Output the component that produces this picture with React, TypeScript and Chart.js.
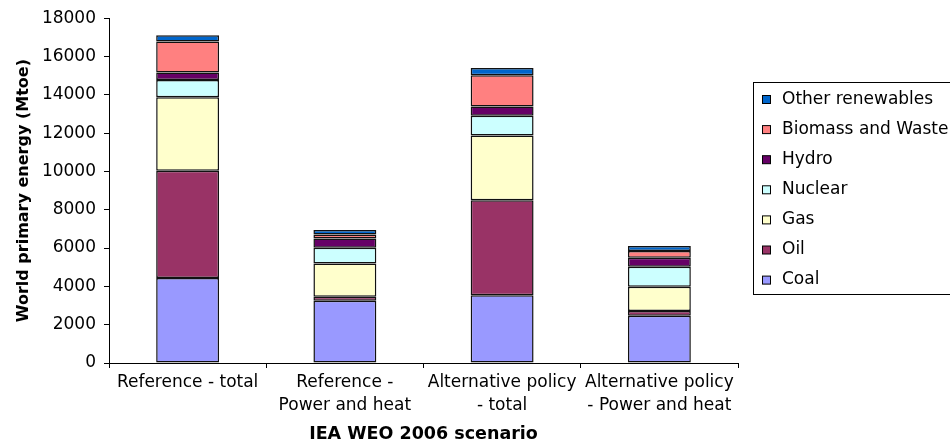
import React, { useEffect, useRef } from "react";
import { Chart, registerables } from "chart.js";

Chart.register(...registerables);

const categories: (string | string[])[] = [
  "Reference - total",
  ["Reference -", "Power and heat"],
  ["Alternative policy", "- total"],
  ["Alternative policy", "- Power and heat"],
];

const coal = [4440, 3250, 3540, 2470];
const oil = [5600, 210, 4960, 240];
const gas = [3830, 1730, 3370, 1265];
const nuclear = [900, 830, 1040, 1050];
const hydro = [400, 480, 480, 470];
const biomass = [1610, 210, 1630, 350];
const otherRenewables = [330, 230, 380, 260];

const yTicks = [0, 2000, 4000, 6000, 8000, 10000, 12000, 14000, 16000, 18000];

const FONT = "'DejaVu Sans', sans-serif";

const legendPlugin = {
  id: "boxLegend",
  afterDraw(chart: any) {
    const ctx = chart.ctx as CanvasRenderingContext2D;
    ctx.save();
    ctx.strokeStyle = "#000";
    ctx.lineWidth = 1;
    ctx.strokeRect(753.5, 82.5, 220, 212);
    const ds = chart.data.datasets.slice().reverse();
    ctx.font = `17px ${FONT}`;
    ctx.textBaseline = "alphabetic";
    ctx.textAlign = "left";
    ds.forEach((d: any, i: number) => {
      const yb = 103.5 + i * 30.1;
      ctx.fillStyle = d.backgroundColor;
      ctx.fillRect(762.5, yb - 8, 8, 8);
      ctx.strokeStyle = "#000";
      ctx.strokeRect(762.5, yb - 8, 8, 8);
      ctx.fillStyle = "#000";
      ctx.fillText(d.label, 782, yb);
    });
    ctx.restore();
  },
};

export default function App() {
  const ref = useRef<HTMLCanvasElement>(null);
  useEffect(() => {
    if (!ref.current) return;
    const mk = (label: string, data: number[], color: string) => ({
      label,
      data,
      backgroundColor: color,
      borderColor: "#111",
      borderWidth: 1.5,
      borderSkipped: false,
      categoryPercentage: 0.8,
      barPercentage: 0.5,
    });
    const chart = new Chart(ref.current, {
      type: "bar",
      data: {
        labels: categories,
        datasets: [
          mk("Coal", coal, "#9999FF"),
          mk("Oil", oil, "#993366"),
          mk("Gas", gas, "#FFFFCC"),
          mk("Nuclear", nuclear, "#CCFFFF"),
          mk("Hydro", hydro, "#660066"),
          mk("Biomass and Waste", biomass, "#FF8080"),
          mk("Other renewables", otherRenewables, "#0066CC"),
        ],
      },
      options: {
        animation: false,
        responsive: true,
        maintainAspectRatio: false,
        devicePixelRatio: 1,
        layout: { padding: { top: 17, right: 212, left: 0, bottom: 0 } },
        plugins: { legend: { display: false }, tooltip: { enabled: false } },
        scales: {
          x: {
            stacked: true,
            afterFit: (s: any) => {
              s.height = 84;
            },
            grid: {
              display: true,
              drawOnChartArea: false,
              drawTicks: true,
              tickLength: 5,
              color: "#000",
              offset: true,
            },
            border: { display: true, color: "#000", width: 1 },
            ticks: {
              color: "#000",
              font: { family: FONT, size: 17, lineHeight: 1.3 },
              padding: 4,
              maxRotation: 0,
              autoSkip: false,
            },
            title: {
              display: true,
              text: "IEA WEO 2006 scenario",
              color: "#000",
              font: { family: FONT, size: 17.5, weight: "bold", lineHeight: 1.2 },
              padding: { top: 0, bottom: 2 },
            },
          },
          y: {
            stacked: true,
            min: 0,
            max: 18000,
            afterFit: (s: any) => {
              s.width = 109;
            },
            afterBuildTicks: (s: any) => {
              s.ticks = yTicks.map((v) => ({ value: v }));
            },
            grid: {
              display: true,
              drawOnChartArea: false,
              drawTicks: true,
              tickLength: 5,
              color: "#000",
            },
            border: { display: true, color: "#000", width: 1 },
            ticks: {
              color: "#000",
              font: { family: FONT, size: 17 },
              padding: 8,
              callback: (v: any) => String(v),
            },
            title: {
              display: true,
              text: "World primary energy (Mtoe)",
              color: "#000",
              font: { family: FONT, size: 16, weight: "bold", lineHeight: 1.2 },
              padding: { top: 14, bottom: 0 },
            },
          },
        },
      },
      plugins: [legendPlugin],
    });
    return () => chart.destroy();
  }, []);
  return (
    <div style={{ position: "fixed", left: 0, top: 0, width: 950, height: 447, background: "#fff" }}>
      <canvas ref={ref} />
    </div>
  );
}
